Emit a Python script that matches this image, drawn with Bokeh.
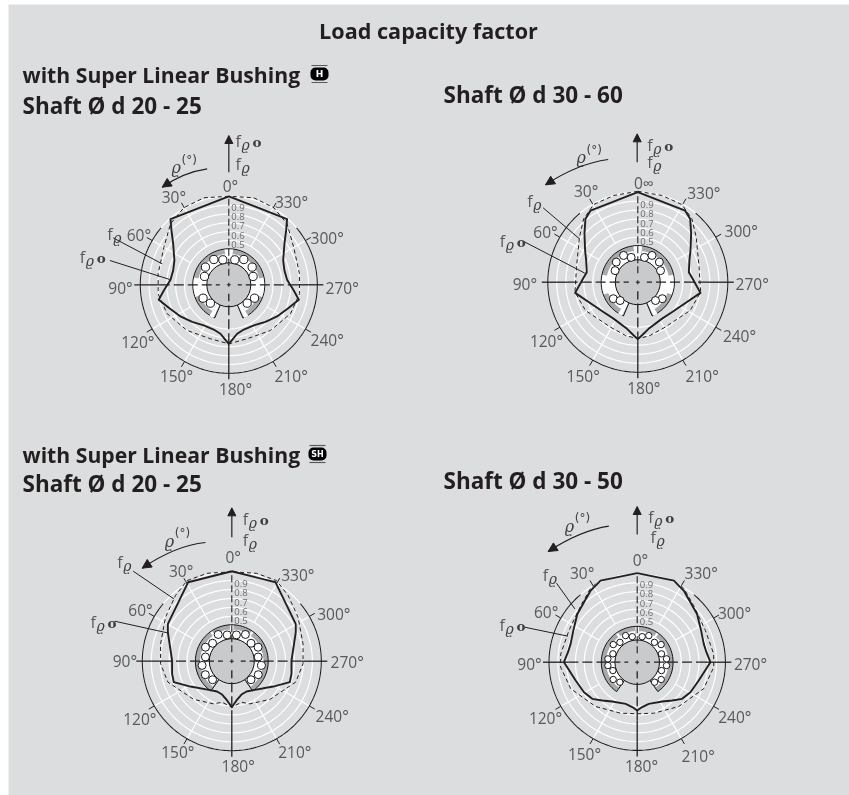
import numpy as np
from bokeh.plotting import figure
from bokeh.models import Range1d, Arrow, NormalHead
from bokeh.core.properties import value
from bokeh.embed import file_html
from bokeh.resources import INLINE

# ---- data (rho in degrees, load factor f) : left half, mirrored for the right half
c1_rho_s = [0, 41.6, 46.5, 53.6, 65.9, 75.6, 85, 95, 102, 110.9, 123.2, 135.3, 148.4, 161.4, 170.3, 176.5, 180]
c1_f_s = [1.0, .992, .893, .781, .673, .649, .661, .737, .809, .726, .652, .589, .539, .533, .561, .623, .667]
c1_rho_d = [0, 16, 30.3, 43.7, 60, 81, 97.3, 115, 137.6, 161, 180]
c1_f_d = [1.0, 1.023, 1.008, .953, .847, .808, .805, .77, .699, .644, .667]

c2_rho_s = [0, 33.4, 39.6, 47.8, 59, 67.2, 78.9, 88, 99.7, 113.9, 131.4, 146.8, 167, 175.7, 180]
c2_f_s = [1.0, .954, .913, .80, .683, .622, .578, .619, .706, .575, .504, .487, .532, .594, .63]
c2_rho_d = [0, 15.5, 29.5, 40.5, 52.4, 76.3, 99, 118.4, 148.7, 167, 180]
c2_f_d = [1.01, 1.0, .993, .926, .819, .701, .707, .661, .585, .607, .63]

c3_rho_s = [0, 29, 59.7, 65.6, 75.8, 89.4, 102, 109.9, 121.5, 141.3, 154, 163.8, 173.2, 180]
c3_f_s = [1.005, 1.008, .827, .785, .714, .667, .682, .689, .542, .41, .376, .388, .442, .514]
c3_rho_d = [0, 15.7, 29, 40.6, 56.4, 76.3, 92, 108, 135, 157, 166.7, 180]
c3_f_d = [1.0, 1.02, 1.03, .967, .889, .819, .797, .752, .603, .518, .471, .514]

c4_rho_s = [0, 24.2, 33, 51.1, 63.7, 74.6, 81.8, 90, 106.6, 119.4, 129.2, 137.6, 147.6, 164.4, 173.7, 180]
c4_f_s = [1.01, 1.014, .968, .872, .808, .783, .793, .83, .728, .693, .657, .588, .528, .491, .512, .547]
c4_rho_d = [28, 32.2, 45, 65.1, 83.8, 93.7, 111.8, 136.8, 161.9, 180]
c4_f_d = [1.005, .991, .906, .853, .872, .87, .811, .689, .608, .585]

ring_f = [.5, .6, .7, .8, .9]
ring_labels = ["0.5", "0.6", "0.7", "0.8", "0.9"]
deg_labels = [30, 60, 120, 150, 210, 240, 300, 330]
deg_text = ["0°", "30°", "60°", "90°", "120°", "150°", "180°", "210°", "240°", "270°", "300°", "330°"]

BG = "#dcddde"
GREY_T = "#58595b"
GREY_B = "#a7a9ac"
SHAFT = "#c9cacc"
DARK = "#231f20"
SANS = value("Open Sans")

p = figure(width=841, height=791, x_range=Range1d(8, 849), y_range=Range1d(795, 4),
           output_backend="svg", toolbar_location=None, min_border=0,
           background_fill_color=BG, border_fill_color=BG, outline_line_color=None,
           x_axis_location=None, y_axis_location=None)
p.xgrid.visible = False
p.ygrid.visible = False
p.styles = {"position": "fixed", "left": "8px", "top": "4px"}


def polar(cx, cy, r, rho):
    t = np.radians(rho)
    return cx - r * np.sin(t), cy - r * np.cos(t)


def txt(x, y, s, size, color=GREY_T, align="center", font=SANS, style="normal", baseline="middle"):
    p.text([x], [y], text=[s], text_font=font, text_font_size=f"{size}px", text_font_style=style,
           text_color=color, text_align=align, text_baseline=baseline)


def sector(cx, cy, r0, r1, a0, a1, fill, line=None):
    a = np.linspace(a0, a1, 60)
    x0, y0 = polar(cx, cy, r1, a)
    x1, y1 = polar(cx, cy, r0, a[::-1])
    xs = np.concatenate([x0, x1])
    ys = np.concatenate([y0, y1])
    if line:
        p.patch(xs, ys, fill_color=fill, line_color=line, line_width=0.9)
    else:
        p.patch(xs, ys, fill_color=fill, line_color=None)


def fq(x, y, with_o=False):
    txt(x, y, "f", 16, align="left")
    txt(x + 6, y + 4, "ϱ", 14, align="left", font=value("DejaVu Serif"), style="italic", color="#404041")
    if with_o:
        txt(x + 17, y + 1, "o", 13.5, align="left", font=value("DejaVu Serif"), style="bold", color="#404041")


def rho_label(x, y):
    txt(x - 6, y + 4, "ϱ", 16, font=value("DejaVu Serif"), style="italic", color="#404041")
    txt(x + 7, y - 4, "(°)", 12, font=value("DejaVu Sans"), color="#404041")


def chart(cx, cy, R, rs, fs, rd, fd, arc, labels, first_zero, sh, shaft_r, ball_r,
          balls, ball_rad, org, top_labels, leaders, rho_pos, vert, curve_pts, track):
    Z = lambda a, b: (org[0] + a / 3, org[1] + b / 3)
    a = np.linspace(0, 360, 240)
    # rings
    for f in ring_f + [1.0]:
        x, y = polar(cx, cy, R * f, a)
        p.line(x, y, line_color="white", line_width=1.2)
    # spokes and ticks
    for d in deg_labels:
        x, y = polar(cx, cy, np.array([R * .5, R]), np.array([d, d]))
        p.line(x, y, line_color="white", line_width=1.2)
        x, y = polar(cx, cy, np.array([R, R * 1.07]), np.array([d, d]))
        p.line(x, y, line_color=DARK, line_width=1)
    # outer arc
    b = np.linspace(arc, 360 - arc, 200)
    x, y = polar(cx, cy, R, b)
    p.line(x, y, line_color=DARK, line_width=1.1)
    # bearing
    ro = R * 0.407
    end = 180 - (35 if sh else 23)
    sector(cx, cy, shaft_r, ro, -end, end, GREY_B, line="black")
    for s in (1, -1):
        lo, hi = track
        if sh:
            sector(cx, cy, shaft_r, ro * 0.87, s * lo if s > 0 else -hi, s * hi if s > 0 else -lo, "white")
            sector(cx, cy, ro * .8, ro * .98, s * 35 - 2, s * 35 + 2, "white")
        else:
            sector(cx, cy, shaft_r, ro * 0.86, s * 8 if s > 0 else -hi, s * hi if s > 0 else -8, "white")
            sector(cx, cy, shaft_r, ro - 0.6, s * 78 if s > 0 else -110, s * 110 if s > 0 else -78, "white")
            sector(cx, cy, shaft_r, ro + 0.5, s * 148 if s > 0 else -155, s * 155 if s > 0 else -148, "white")
    sector(cx, cy, shaft_r, ro - 0.6, -3 if sh else -7, 3 if sh else 7, "white")
    p.circle([cx], [cy], radius=shaft_r, fill_color=SHAFT, line_color="black", line_width=0.9)
    bx, by = [], []
    for d, rb in zip(balls, ball_rad):
        for sgn in (1, -1):
            x, y = polar(cx, cy, rb, sgn * d)
            bx.append(x)
            by.append(y)
    p.circle(bx, by, radius=ball_r, fill_color="white", line_color="black", line_width=0.9)
    # axes
    gap = 9
    p.line([cx - R - 6, cx - R * .78], [cy, cy], line_color=DARK, line_width=1.3)
    p.line([cx + R + 6, cx + R * .78], [cy, cy], line_color=DARK, line_width=1.3)
    p.line([cx - R * .78, cx - gap], [cy, cy], line_color=DARK, line_width=1.3, line_dash="10 4")
    p.line([cx + R * .78, cx + gap], [cy, cy], line_color=DARK, line_width=1.3, line_dash="10 4")
    p.line([cx, cx], [cy + R + 6, cy + R * .66], line_color=DARK, line_width=1.3)
    p.line([cx, cx], [cy + R * .66, cy + gap], line_color=DARK, line_width=1.3, line_dash="10 4")
    p.line([cx, cx], [cy - gap, cy - R], line_color=DARK, line_width=1.1, line_dash="7 3")
    p.line([cx - 2, cx + 2], [cy, cy], line_color=DARK, line_width=1.1)
    p.line([cx, cx], [cy - 2, cy + 2], line_color=DARK, line_width=1.1)
    # curves
    rho = np.array(rd + [360 - v for v in rd[::-1]], dtype=float)
    f = np.array(fd + fd[::-1], dtype=float)
    x, y = polar(cx, cy, R * f, rho)
    p.line(x, y, line_color=DARK, line_width=1, line_dash="4 3")
    rho = np.array(rs + [360 - v for v in rs[::-1]], dtype=float)
    f = np.array(fs + fs[::-1], dtype=float)
    x, y = polar(cx, cy, R * f, rho)
    p.line(x, y, line_color=DARK, line_width=1.9, line_join="round")
    # ring labels sit just inside their rings, slightly more widely spaced than the rings
    for i, s in enumerate(ring_labels):
        txt(cx + 2.5, cy - (40.3 + 9.35 * i), s, 9.5, align="left", color="#6d6e71")
    # degree labels
    for s, (zx, zy) in zip([first_zero] + deg_text[1:], labels):
        x, y = Z(zx, zy)
        txt(x, y, s, 15.5)
    # leaders
    for (x0, y0, x1, y1) in leaders:
        a0, b0 = Z(x0, y0)
        a1, b1 = Z(x1, y1)
        p.line([a0, a1], [b0, b1], line_color=DARK, line_width=1)
    # f labels
    for zx, zy, o in top_labels:
        x, y = Z(zx, zy)
        fq(x, y, o)
    x, y = Z(*rho_pos)
    rho_label(x, y)
    # vertical arrow
    x0, y0 = Z(vert[0], vert[1])
    x1, y1 = Z(vert[0], vert[2])
    p.add_layout(Arrow(end=NormalHead(size=8, fill_color=DARK, line_color=DARK), x_start=x0, y_start=y0,
                       x_end=x1, y_end=y1, line_color=DARK, line_width=1.2))
    # curved arrow
    (a0, b0), (c0, d0), (a1, b1) = [Z(*q) for q in curve_pts]
    p.quadratic(x0=[a0], y0=[b0], x1=[a1], y1=[b1], cx=[c0], cy=[d0], line_color=DARK, line_width=1.2)
    t = .9
    xa = (1 - t) ** 2 * a0 + 2 * t * (1 - t) * c0 + t ** 2 * a1
    ya = (1 - t) ** 2 * b0 + 2 * t * (1 - t) * d0 + t ** 2 * b1
    p.add_layout(Arrow(end=NormalHead(size=9, fill_color=DARK, line_color=DARK), x_start=xa, y_start=ya,
                       x_end=a1, y_end=b1, line_color=DARK, line_width=1.2))


chart(228.3, 284.3, 88.5, c1_rho_s, c1_f_s, c1_rho_d, c1_f_d, 50,
      [(510, 195), (340, 228), (235, 342), (180, 503), (232, 665), (348, 767), (525, 805), (692, 767), (800, 658),
       (845, 503), (800, 353), (693, 243)], "0°", False, 22, 4.1,
      [13.5, 30.6, 52.9, 71, 117.5, 135], [25.7, 29.4, 29.3, 25.7, 29, 26], (60, 120),
      [(525, 62, True), (525, 130, False), (140, 340, False), (58, 410, True)],
      [(158, 352, 305, 430), (148, 420, 328, 477)], (365, 130), (505, 155, 45),
      [(440, 145), (370, 155), (305, 200)], (0, 148))

chart(637.3, 281.7, 90, c2_rho_s, c2_f_s, c2_rho_d, c2_f_d, 40,
      [(520, 187), (347, 210), (225, 335), (163, 490), (228, 660), (338, 767), (520, 803), (695, 767), (807, 645),
       (845, 490), (812, 332), (700, 218)], "0∞", False, 22.5, 4.0,
      [15, 28, 47, 63, 124, 136], [25.7, 30.3, 29.5, 25.5, 29.5, 25.5], (470, 120),
      [(530, 72, True), (530, 125, False), (170, 240, False), (88, 360, True)],
      [(218, 262, 327, 355), (160, 363, 347, 460)], (350, 100), (500, 125, 40),
      [(413, 117), (320, 130), (225, 193)], (0, 148))

chart(231.3, 660.7, 89.5, c3_rho_s, c3_f_s, c3_rho_d, c3_f_d, 50,
      [(458, 170), (302, 212), (180, 328), (133, 482), (178, 655), (292, 755), (473, 797), (643, 755), (755, 645),
       (800, 483), (760, 340), (652, 222)], "0°", True, 22.5, 4.0,
      [10, 27, 47, 62, 81, 98, 117, 134], [26.7, 30, 26.3, 29.8, 26.7, 30, 29.7, 26.7], (80, 500),
      [(487, 55, True), (487, 117, False), (110, 185, False), (30, 365, True)],
      [(158, 212, 280, 295), (102, 362, 265, 398)], (285, 110), (454, 110, 22),
      [(375, 126), (285, 135), (185, 203)], (4, 143))

chart(636.7, 661.7, 88.2, c4_rho_s, c4_f_s, c4_rho_d, c4_f_d, 40,
      [(480, 178), (305, 218), (197, 333), (147, 490), (195, 653), (312, 760), (483, 797), (653, 765), (763, 648),
       (810, 490), (762, 337), (662, 218)], "0°", True, 22.3, 3.2,
      [11, 23.6, 41, 53.6, 71, 83.5, 96.5, 109, 125.8, 139], [26, 29, 26.3, 29.7, 25.7, 29.5, 29.5, 25.7, 29.6, 26.5],
      (480, 500),
      [(503, 48, True), (510, 110, False), (187, 222, False), (57, 372, True)],
      [(228, 248, 283, 325), (132, 380, 262, 407)], (285, 65), (470, 102, 18),
      [(385, 77), (300, 90), (203, 153)], (4, 143))

# headings
BOLD = dict(color=DARK, style="bold")
txt(428, 30, "Load capacity factor", 21.6, **BOLD)
txt(22, 74, "with Super Linear Bushing", 21.2, align="left", **BOLD)
txt(22, 105, "Shaft Ø d 20 - 25", 22.5, align="left", **BOLD)
txt(443, 94, "Shaft Ø d 30 - 60", 22.5, align="left", **BOLD)
txt(22, 454, "with Super Linear Bushing", 21.2, align="left", **BOLD)
txt(22, 483, "Shaft Ø d 20 - 25", 22.5, align="left", **BOLD)
txt(443, 480, "Shaft Ø d 30 - 50", 22.5, align="left", **BOLD)


def badge(x, y, s):
    p.line([x - 8, x + 8], [y - 9, y - 9], line_color="#58595b", line_width=1.2)
    p.line([x - 8, x + 8], [y + 8, y + 8], line_color="#58595b", line_width=1.2)
    p.rect([x], [y - .5], width=18, height=13, fill_color="black", line_color=None, border_radius=5)
    txt(x, y - .5, s, 9 if len(s) == 1 else 8, color="white", font=value("DejaVu Sans"), style="bold")


badge(319, 74, "H")
badge(317, 454, "SH")

open("out.html", "w").write(file_html(p, INLINE))
